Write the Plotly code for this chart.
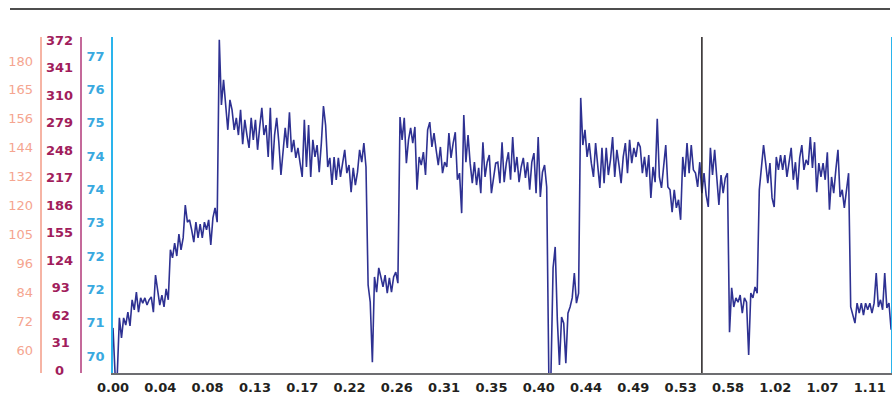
import plotly.graph_objects as go

SAMPLE_SECONDS = 0.2

signal = [
    71.34, 70.35, 70.35, 71.55, 71.13, 71.55, 71.40, 71.67, 71.38, 71.93,
    71.72, 72.09, 71.67, 71.97, 71.86, 71.97, 71.82, 71.93, 71.99, 71.67,
    72.45, 72.14, 71.82, 72.03, 71.78, 72.16, 71.93, 72.98, 72.81, 73.12,
    72.85, 73.31, 72.98, 73.23, 73.92, 73.56, 73.61, 73.40, 73.14, 73.56,
    73.23, 73.52, 73.23, 73.56, 73.40, 73.61, 73.08, 73.65, 73.86, 73.56,
    77.39, 76.02, 76.55, 76.02, 75.50, 76.13, 75.92, 75.50, 75.75, 75.39,
    75.92, 75.20, 75.71, 75.39, 75.12, 75.75, 75.29, 75.71, 75.08, 75.56,
    75.96, 75.39, 75.60, 74.93, 75.96, 74.66, 75.39, 75.75, 75.24, 74.55,
    75.08, 75.54, 75.12, 75.87, 75.03, 75.29, 74.91, 75.12, 74.80, 74.51,
    75.71, 74.72, 75.60, 74.51, 75.29, 74.93, 75.18, 74.61, 75.22, 76.00,
    75.60, 74.72, 74.91, 74.34, 74.93, 74.45, 74.91, 74.51, 74.80, 75.08,
    74.59, 74.76, 74.19, 74.70, 74.34, 74.61, 75.08, 74.82, 75.22, 74.72,
    72.24, 71.88, 70.62, 72.41, 72.09, 72.60, 72.41, 72.20, 72.45, 72.07,
    72.39, 72.09, 72.41, 72.51, 72.28, 75.77, 75.29, 75.75, 74.80, 75.29,
    75.54, 75.22, 75.56, 74.24, 74.93, 74.76, 75.03, 74.55, 75.50, 75.66,
    75.14, 75.43, 75.08, 74.76, 75.14, 74.59, 74.82, 74.72, 75.43, 74.91,
    75.22, 75.45, 74.45, 74.59, 73.75, 75.81, 74.82, 75.39, 74.80, 74.38,
    74.82, 74.34, 74.70, 74.17, 75.24, 74.51, 74.82, 74.97, 74.17, 74.49,
    74.80, 74.82, 74.38, 75.24, 74.40, 74.80, 75.03, 74.45, 75.35, 74.61,
    74.93, 74.40, 74.72, 74.91, 74.49, 74.82, 74.24, 74.82, 75.01, 74.17,
    75.35, 74.09, 74.61, 74.76, 74.30, 70.35, 70.35, 72.60, 73.04, 71.51,
    70.56, 71.57, 71.44, 70.60, 71.65, 71.78, 71.97, 72.49, 71.86, 72.07,
    76.17, 75.18, 75.50, 74.93, 75.22, 74.80, 74.51, 75.22, 74.80, 74.28,
    75.12, 74.38, 75.12, 74.55, 74.87, 75.35, 74.51, 75.08, 74.76, 74.38,
    74.93, 75.22, 74.59, 75.29, 74.80, 75.12, 74.93, 75.24, 75.14, 74.59,
    74.93, 74.51, 74.97, 74.07, 74.72, 74.40, 75.73, 74.51, 74.28, 74.72,
    75.18, 74.30, 74.24, 73.77, 74.24, 73.86, 74.03, 73.61, 74.93, 74.51,
    75.22, 74.59, 75.18, 74.66, 74.59, 74.30, 74.82, 74.17, 74.59, 74.13,
    73.88, 75.12, 74.55, 75.08, 74.45, 73.92, 74.55, 74.17, 74.49, 74.59,
    71.25, 72.18, 71.78, 71.97, 71.88, 72.03, 71.65, 71.97, 71.88, 70.77,
    72.07, 71.97, 72.20, 72.07, 74.24, 74.80, 75.18, 74.80, 74.38, 74.80,
    74.07, 73.88, 74.93, 74.66, 74.97, 74.66, 74.97, 74.51, 74.80, 75.12,
    74.45, 74.82, 74.24, 74.91, 75.18, 74.66, 74.87, 74.76, 75.35, 74.70,
    75.24, 74.19, 74.80, 74.51, 74.80, 74.45, 75.03, 73.82, 74.51, 74.17,
    74.66, 75.08, 74.09, 74.24, 73.86, 74.24, 74.59, 71.78, 71.61, 71.44,
    71.86, 71.65, 71.86, 71.61, 71.86, 71.72, 71.86, 71.65, 71.86, 72.49,
    71.78, 71.93, 71.72, 72.49, 71.76, 71.86, 71.30,
]
time_s = [i * SAMPLE_SECONDS for i in range(len(signal))]

x_tick_step_s = 4.45
x_tick_labels = ["0.00", "0.04", "0.08", "0.13", "0.17", "0.22", "0.26", "0.31",
                 "0.35", "0.40", "0.44", "0.49", "0.53", "0.58", "1.02", "1.07", "1.11"]
x_tick_values = [k * x_tick_step_s for k in range(len(x_tick_labels))]
marker_time_s = 55.4

blue_tick_values = [70.75, 71.45, 72.15, 72.85, 73.55, 74.25, 74.95, 75.65, 76.35, 77.05]
blue_tick_labels = ["70", "71", "72", "72", "73", "74", "74", "75", "76", "77"]

maroon_tick_values = [0, 31, 62, 93, 124, 155, 186, 217, 248, 279, 310, 341, 372]
maroon_tick_labels = ["0", "31", "62", "93", "124", "155", "186", "217", "248",
                      "279", "310", "341", "372"]

salmon_tick_values = [60, 72, 84, 96, 108, 120, 132, 144, 156, 168, 180]
salmon_tick_labels = ["60", "72", "84", "96", "105", "120", "132", "144", "156", "165", "180"]

W, H = 892, 395
FONT = "DejaVu Sans"

BLUE_TXT, BLUE_LINE = "#39A9E0", "#2AB4EC"
MAROON_TXT, MAROON_LINE = "#A11D5C", "#C4699A"
SALMON_TXT, SALMON_LINE = "#F5A590", "#F6B4A4"


def centred(label, width=3):
    # the maroon labels are centred in their column: pad the short ones with figure spaces
    pad = width - len(label)
    return label + "\u2007" * (pad // 2) + ("\u2005" if pad % 2 else "")


fig = go.Figure()
fig.add_trace(go.Scatter(x=time_s, y=signal, mode="lines",
                         line=dict(color="#2E3192", width=1.6),
                         showlegend=False, hoverinfo="skip"))
fig.add_trace(go.Scatter(x=[None], y=[None], yaxis="y2", showlegend=False, hoverinfo="skip"))
fig.add_trace(go.Scatter(x=[None], y=[None], yaxis="y3", showlegend=False, hoverinfo="skip"))

fig.update_layout(
    template="none",
    width=W, height=H,
    margin=dict(l=0, r=0, t=37, b=22, pad=0, autoexpand=False),
    paper_bgcolor="white", plot_bgcolor="white",
    showlegend=False,
    xaxis=dict(
        domain=[113 / W, 891 / W], range=[0, 73.19], automargin=False,
        tickmode="array", tickvals=x_tick_values, ticktext=x_tick_labels,
        showline=True, linecolor="#6D6E71", linewidth=2,
        showgrid=False, zeroline=False, ticks="", ticklabelstandoff=1,
        tickfont=dict(family=FONT, size=13, color="#231F20", weight="bold"),
    ),
    yaxis=dict(
        range=[70.393, 77.449], anchor="x", side="left", automargin=False,
        tickmode="array", tickvals=blue_tick_values, ticktext=blue_tick_labels,
        showline=True, linecolor=BLUE_LINE, linewidth=1.5, mirror=True,
        showgrid=False, zeroline=False, ticks="", ticklabelstandoff=4,
        tickfont=dict(family=FONT, size=13, color=BLUE_TXT, weight="bold"),
    ),
    yaxis2=dict(
        range=[-3.38, 375.38], overlaying="y", anchor="free", side="left",
        position=80.5 / W, automargin=False,
        tickmode="array", tickvals=maroon_tick_values,
        ticktext=[centred(t) for t in maroon_tick_labels],
        showline=True, linecolor=MAROON_LINE, linewidth=1.5,
        showgrid=False, zeroline=False, ticks="", ticklabelstandoff=4,
        tickfont=dict(family=FONT, size=13, color=MAROON_TXT, weight="bold"),
    ),
    yaxis3=dict(
        range=[50.45, 189.97], overlaying="y", anchor="free", side="left",
        position=40.5 / W, automargin=False,
        tickmode="array", tickvals=salmon_tick_values, ticktext=salmon_tick_labels,
        showline=True, linecolor=SALMON_LINE, linewidth=1.5,
        showgrid=False, zeroline=False, ticks="", ticklabelstandoff=4,
        tickfont=dict(family=FONT, size=13, color=SALMON_TXT),
    ),
    shapes=[
        dict(type="line", xref="paper", yref="paper",
             x0=10 / W, x1=890 / W, y0=(373 - 9) / 336, y1=(373 - 9) / 336,
             line=dict(color="#4D4D4D", width=2)),
        dict(type="line", xref="x", yref="paper",
             x0=marker_time_s, x1=marker_time_s, y0=0, y1=1,
             line=dict(color="#231F20", width=1.5)),
    ],
)

fig.write_html("out.html", config={"displayModeBar": False},
               post_script="document.body.style.margin='0';")
